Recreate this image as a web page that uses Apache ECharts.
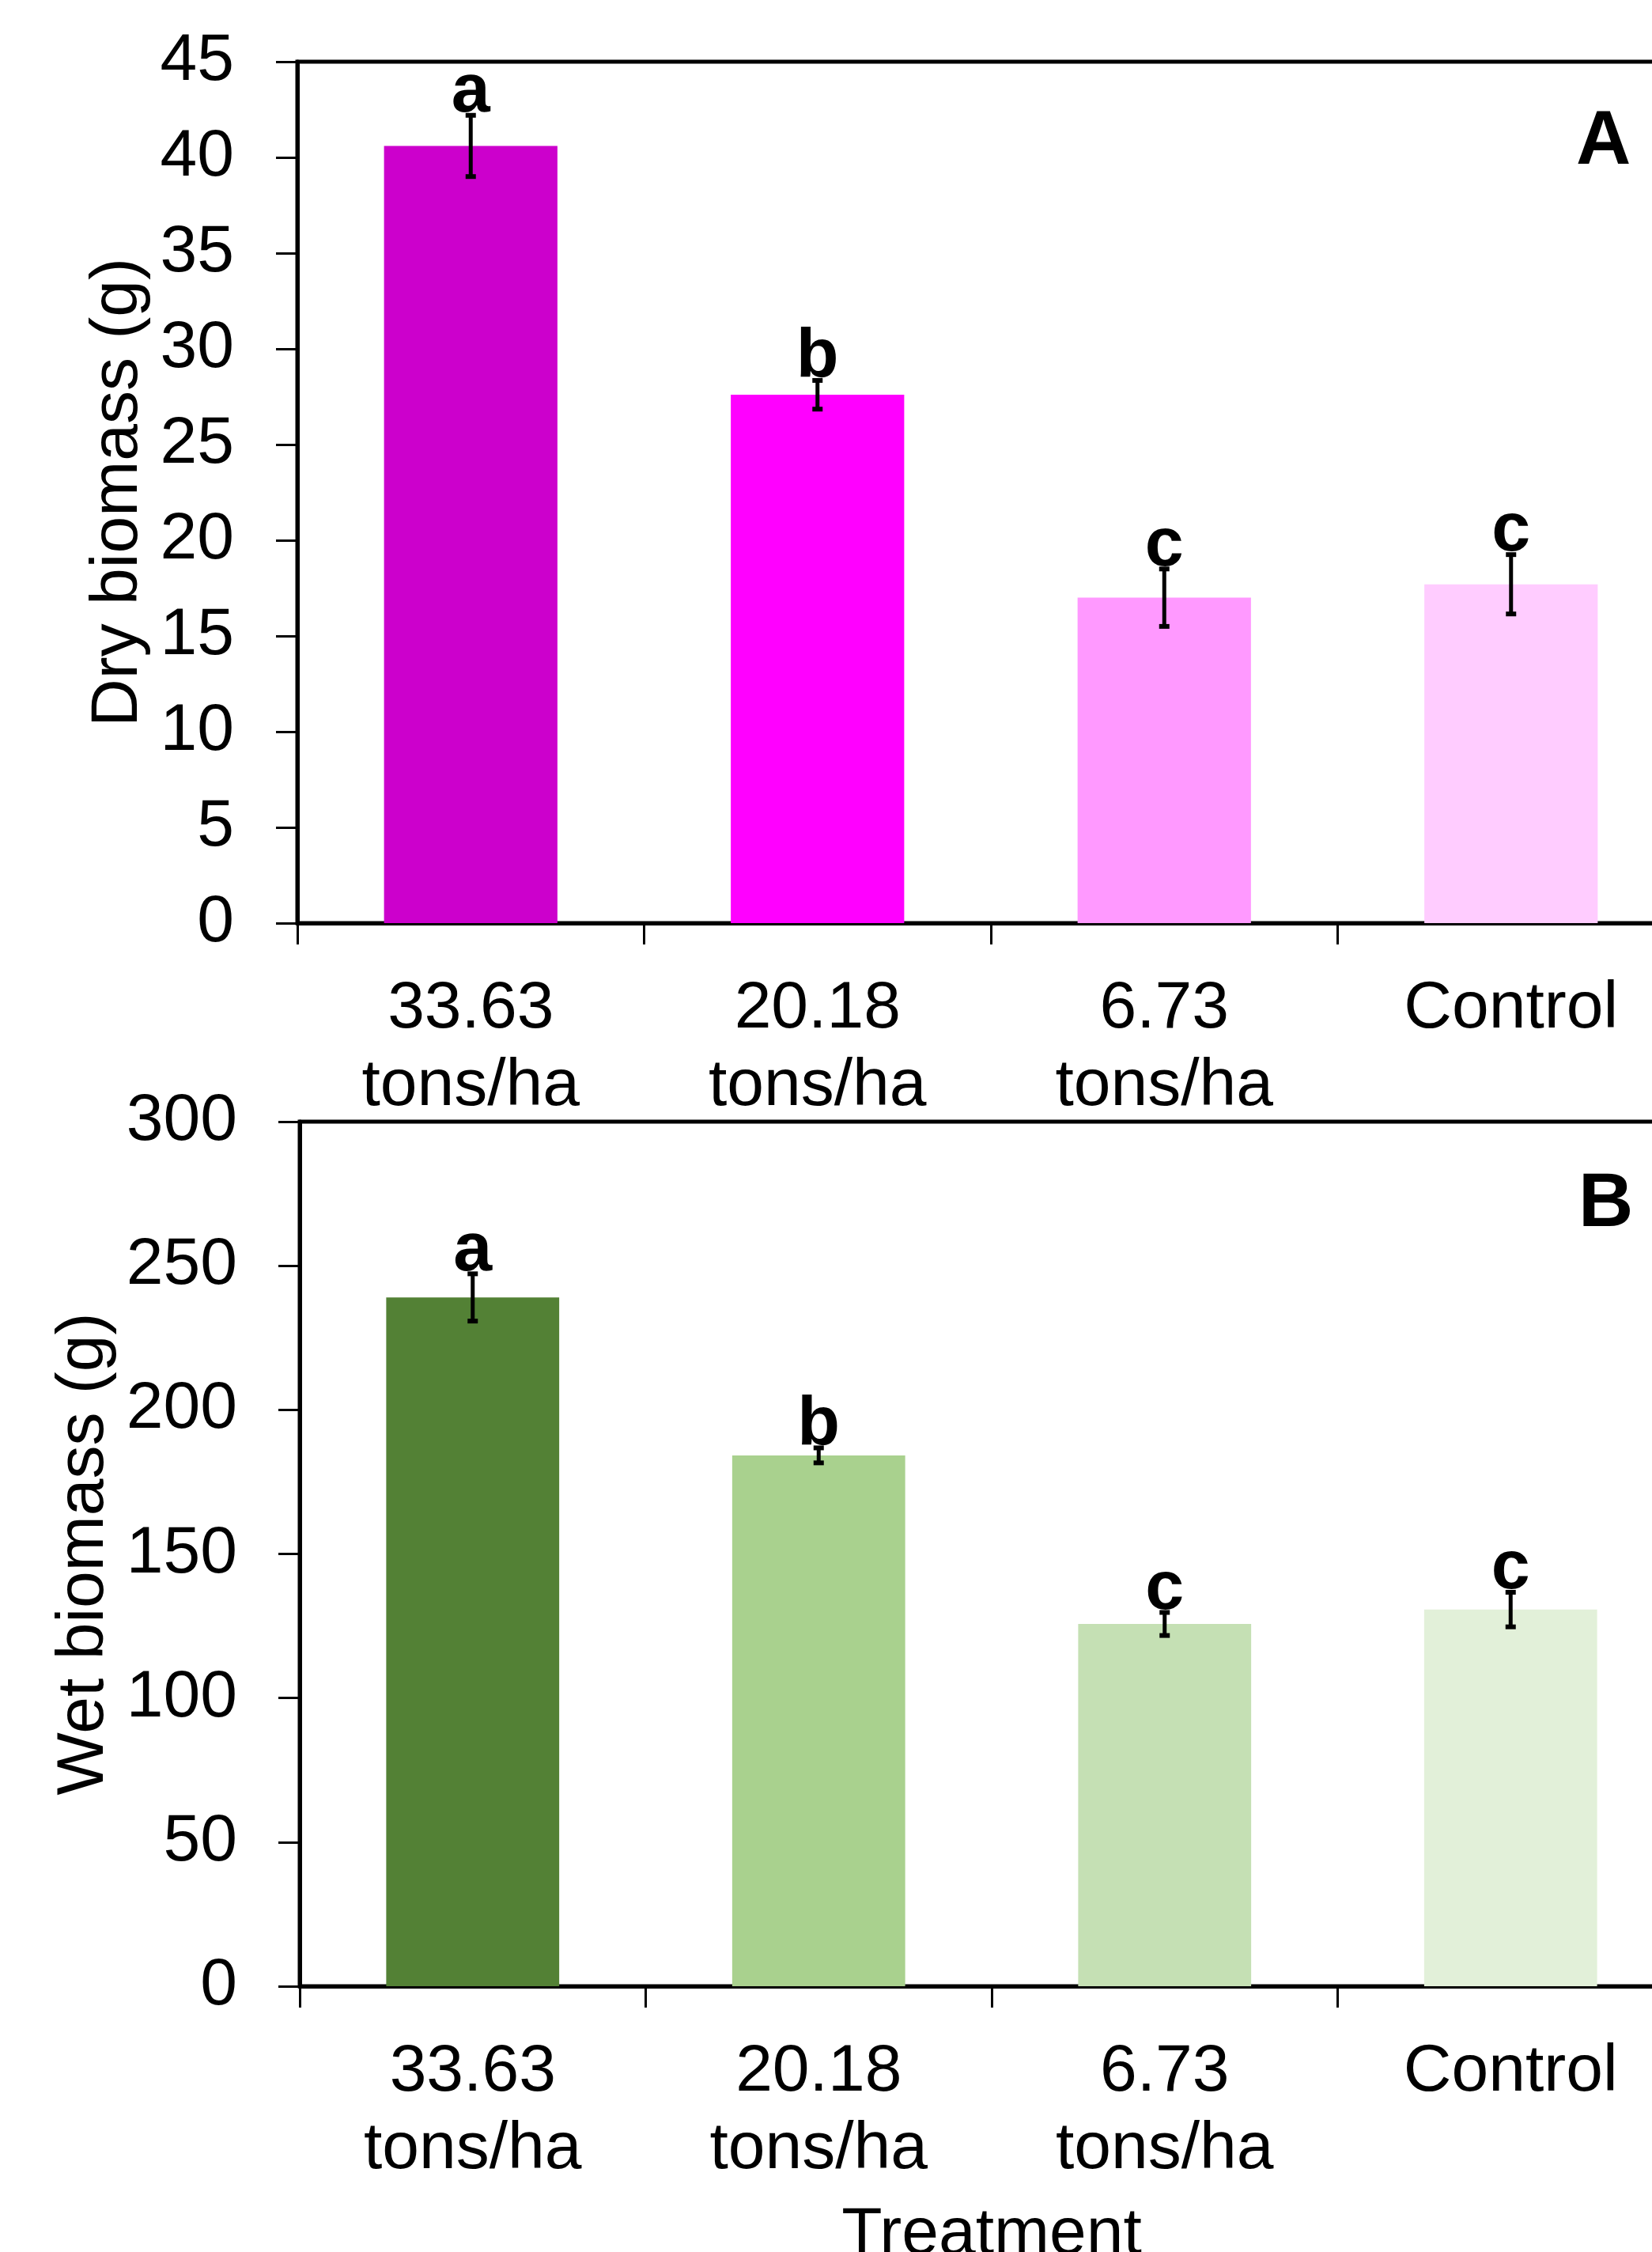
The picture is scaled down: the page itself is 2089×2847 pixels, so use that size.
<!DOCTYPE html>
<html>
<head>
<meta charset="utf-8">
<script src="https://cdn.jsdelivr.net/npm/echarts@6/dist/echarts.min.js"></script>
<style>
html,body{margin:0;padding:0;background:#fff;}
#chart{width:2089px;height:2847px;}
</style>
</head>
<body>
<div id="chart"></div>
<script>
// ---- Data ----
const categories = ['33.63\ntons/ha', '20.18\ntons/ha', '6.73\ntons/ha', 'Control'];

const dryMean = [40.6, 27.6, 17.0, 17.7];
const dryErr = [1.6, 0.75, 1.5, 1.55];
const dryLetters = ['a', 'b', 'c', 'c'];

const wetMean = [239, 184.2, 125.7, 130.7];
const wetErr = [8.2, 2.6, 4.0, 6.0];
const wetLetters = ['a', 'b', 'c', 'c'];

const dryAxis = { min: 0, max: 45, interval: 5 };
const wetAxis = { min: 0, max: 300, interval: 50 };

const dryColors = ['#CC00CC', '#FF00FF', '#FF99FF', '#FFCCFF'];
const wetColors = ['#538135', '#A9D18E', '#C5E0B4', '#E2F0D9'];

// ---- Styling ----
const FONT = '"Liberation Sans", Arial, Helvetica, sans-serif';

function errRender(letters) {
  return function (params, api) {
    const i = api.value(0);
    const m = api.value(1);
    const e = api.value(2);
    const top = api.coord([i, m + e]);
    const bot = api.coord([i, m - e]);
    const x = top[0];
    return {
      type: 'group',
      children: [
        { type: 'line', shape: { x1: x, y1: top[1], x2: x, y2: bot[1] }, style: { stroke: '#000', lineWidth: 5 } },
        { type: 'rect', shape: { x: x - 6.5, y: top[1] - 3, width: 13, height: 6 }, style: { fill: '#000' } },
        { type: 'rect', shape: { x: x - 6.5, y: bot[1] - 3, width: 13, height: 6 }, style: { fill: '#000' } },
        { type: 'text', z2: 10, style: { text: letters[i], x: x, y: top[1] + 15, align: 'center', verticalAlign: 'bottom',
            fontSize: 88, fontWeight: 'bold', fontFamily: FONT, fill: '#000' } }
      ]
    };
  };
}

function xAxisCfg(gridIndex, name) {
  return {
    type: 'category', gridIndex: gridIndex, data: categories,
    boundaryGap: true,
    name: name || '', nameLocation: 'middle', nameGap: 273,
    nameTextStyle: { fontSize: 84, fontFamily: FONT, color: '#000' },
    axisLine: { show: true, lineStyle: { color: '#000', width: 5 } },
    axisTick: { show: true, inside: false, length: 27, lineStyle: { color: '#000', width: 3 } },
    axisLabel: { show: true, margin: 60, fontSize: 84, lineHeight: 98, fontFamily: FONT, color: '#000', interval: 0, verticalAlign: 'top' },
    splitLine: { show: false }
  };
}

function yAxisCfg(gridIndex, ax, name, nameGap, margin) {
  return {
    type: 'value', gridIndex: gridIndex, min: ax.min, max: ax.max, interval: ax.interval,
    name: name, nameLocation: 'middle', nameGap: nameGap,
    nameTextStyle: { fontSize: 84, fontFamily: FONT, color: '#000' },
    axisLine: { show: true, lineStyle: { color: '#000', width: 5 } },
    axisTick: { show: true, inside: false, length: 27, lineStyle: { color: '#000', width: 3 } },
    axisLabel: { show: true, margin: margin, fontSize: 84, fontFamily: FONT, color: '#000' },
    splitLine: { show: false }
  };
}

const chart = echarts.init(document.getElementById('chart'), null, { renderer: 'canvas' });

const option = {
  backgroundColor: '#fff',
  animation: false,
  grid: [
    { left: 376, top: 78, right: -41, height: 1089, outerBoundsMode: 'none', containLabel: false,
      show: true, borderColor: '#000', borderWidth: 5, backgroundColor: 'transparent' },
    { left: 379, top: 1418, right: -40, height: 1093, outerBoundsMode: 'none', containLabel: false,
      show: true, borderColor: '#000', borderWidth: 5, backgroundColor: 'transparent' }
  ],
  xAxis: [xAxisCfg(0), xAxisCfg(1, 'Treatment')],
  yAxis: [
    yAxisCfg(0, dryAxis, 'Dry biomass (g)', 180, 80),
    yAxisCfg(1, wetAxis, 'Wet biomass (g)', 227, 79)
  ],
  graphic: [
    { type: 'text', left: 1993, top: 133, style: { text: 'A', fontSize: 96, fontWeight: 'bold', fontFamily: FONT, fill: '#000' } },
    { type: 'text', left: 1996, top: 1476, style: { text: 'B', fontSize: 96, fontWeight: 'bold', fontFamily: FONT, fill: '#000' } }
  ],
  series: [
    {
      type: 'bar', xAxisIndex: 0, yAxisIndex: 0, barWidth: '50%',
      data: dryMean.map((v, i) => ({ value: v, itemStyle: { color: dryColors[i] } }))
    },
    {
      type: 'custom', xAxisIndex: 0, yAxisIndex: 0, z: 5,
      renderItem: errRender(dryLetters),
      encode: { x: 0, y: 1 },
      data: dryMean.map((v, i) => [i, v, dryErr[i]])
    },
    {
      type: 'bar', xAxisIndex: 1, yAxisIndex: 1, barWidth: '50%',
      data: wetMean.map((v, i) => ({ value: v, itemStyle: { color: wetColors[i] } }))
    },
    {
      type: 'custom', xAxisIndex: 1, yAxisIndex: 1, z: 5,
      renderItem: errRender(wetLetters),
      encode: { x: 0, y: 1 },
      data: wetMean.map((v, i) => [i, v, wetErr[i]])
    }
  ]
};
chart.setOption(option);
</script>
</body>
</html>
